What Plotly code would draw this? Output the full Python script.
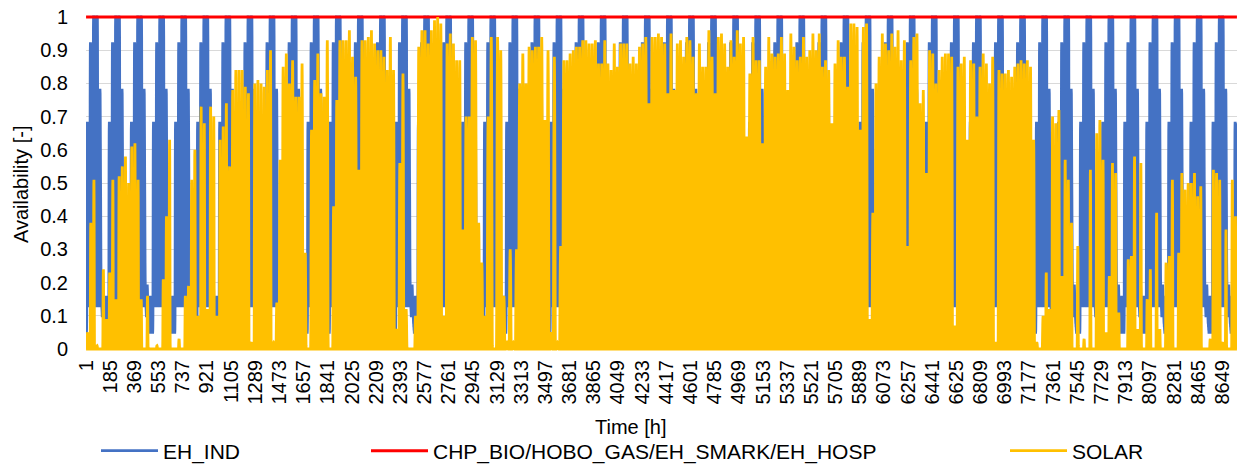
import plotly.graph_objects as go

# ---------------------------------------------------------------- data
HOURS_PER_YEAR = 8760
hours = list(range(1, HOURS_PER_YEAR + 1))

# x-axis labels every 184 h (1, 185, ..., 8649)
tick_hours = list(range(1, HOURS_PER_YEAR, 184))

# EH_IND: hourly availability for a typical week (Mon..Sun)
EH_IND_MON = [0.06, 0.05, 0.05, 0.05, 0.06, 0.10, 0.30, 0.55, 0.66, 0.68, 0.68, 0.67,
              0.62, 0.66, 0.68, 0.63, 0.48, 0.32, 0.24, 0.19, 0.16, 0.15, 0.14, 0.13]
EH_IND_TUE = [0.13, 0.13, 0.13, 0.13, 0.14, 0.20, 0.42, 0.74, 0.89, 0.92, 0.92, 0.91,
              0.85, 0.90, 0.92, 0.87, 0.68, 0.45, 0.30, 0.22, 0.18, 0.16, 0.15, 0.14]
EH_IND_WED = [0.13, 0.13, 0.13, 0.13, 0.14, 0.21, 0.46, 0.80, 0.97, 1.00, 1.00, 0.99,
              0.92, 0.98, 1.00, 0.95, 0.74, 0.48, 0.32, 0.23, 0.18, 0.16, 0.15, 0.14]
EH_IND_THU = [0.13, 0.13, 0.13, 0.13, 0.14, 0.21, 0.45, 0.79, 0.96, 1.00, 1.00, 0.98,
              0.91, 0.97, 1.00, 0.94, 0.72, 0.47, 0.31, 0.23, 0.18, 0.16, 0.15, 0.14]
EH_IND_FRI = [0.13, 0.13, 0.13, 0.13, 0.14, 0.19, 0.40, 0.66, 0.76, 0.78, 0.78, 0.77,
              0.70, 0.62, 0.52, 0.45, 0.35, 0.26, 0.21, 0.18, 0.16, 0.15, 0.14, 0.13]
EH_IND_SAT = [0.13, 0.12, 0.11, 0.10, 0.10, 0.10, 0.12, 0.15, 0.18, 0.19, 0.19, 0.18,
              0.16, 0.15, 0.14, 0.13, 0.12, 0.11, 0.10, 0.09, 0.08, 0.08, 0.07, 0.07]
EH_IND_SUN = [0.06, 0.06, 0.05, 0.05, 0.05, 0.05, 0.06, 0.08, 0.12, 0.15, 0.16, 0.15,
              0.13, 0.12, 0.10, 0.09, 0.08, 0.07, 0.07, 0.06, 0.06, 0.06, 0.06, 0.06]
EH_IND_WEEK = [EH_IND_MON, EH_IND_TUE, EH_IND_WED, EH_IND_THU,
               EH_IND_FRI, EH_IND_SAT, EH_IND_SUN]

# CHP_BIO / HOBO_GAS / EH_SMARK / EH_HOSP: always available
CHP_LEVEL = 1.0

# SOLAR: daily peak availability, day 0 .. day 364
SOLAR_DAILY_PEAK = [
    0.05, 0.38, 0.51, 0.01, 0.00, 0.24, 0.09, 0.23, 0.51, 0.15,
    0.52, 0.55, 0.58, 0.50, 0.61, 0.62, 0.51, 0.15, 0.00, 0.16,
    0.00, 0.00, 0.01, 0.00, 0.21, 0.40, 0.63, 0.00, 0.00, 0.03,
    0.00, 0.16, 0.19, 0.51, 0.60, 0.10, 0.73, 0.68, 0.12, 0.73,
    0.70, 0.10, 0.63, 0.67, 0.74, 0.55, 0.78, 0.84, 0.84, 0.84,
    0.79, 0.77, 0.02, 0.80, 0.81, 0.80, 0.79, 0.84, 0.90, 0.02,
    0.14, 0.57, 0.85, 0.89, 0.80, 0.87, 0.76, 0.76, 0.86, 0.29,
    0.00, 0.66, 0.81, 0.89, 0.77, 0.76, 0.93, 0.00, 0.43, 0.75,
    0.93, 0.93, 0.93, 0.96, 0.88, 0.82, 0.54, 0.93, 0.93, 0.94,
    0.96, 0.92, 0.90, 0.90, 0.88, 0.84, 0.94, 0.84, 0.06, 0.56,
    0.83, 0.12, 0.00, 0.00, 0.10, 0.91, 0.96, 0.96, 0.92, 0.96,
    0.99, 1.00, 0.98, 0.10, 0.92, 0.95, 0.92, 0.87, 0.87, 0.36,
    0.70, 0.70, 0.94, 0.93, 0.38, 0.26, 0.10, 0.70, 0.94, 0.00,
    0.94, 0.90, 0.16, 0.02, 0.30, 0.02, 0.30, 0.80, 0.89, 0.80,
    0.91, 0.90, 0.91, 0.91, 0.94, 0.69, 0.90, 0.05, 0.88, 0.02,
    0.31, 0.87, 0.87, 0.89, 0.90, 0.91, 0.91, 0.93, 0.93, 0.92,
    0.92, 0.93, 0.86, 0.86, 0.93, 0.86, 0.84, 0.92, 0.85, 0.92,
    0.92, 0.92, 0.86, 0.88, 0.86, 0.91, 0.92, 0.94, 0.74, 0.94,
    0.94, 0.95, 0.94, 0.92, 0.77, 0.95, 0.78, 0.92, 0.93, 0.88,
    0.94, 0.93, 0.88, 0.77, 0.92, 0.85, 0.85, 0.96, 0.88, 0.77,
    0.94, 0.95, 0.92, 0.85, 0.93, 0.88, 0.96, 0.92, 0.94, 0.64,
    0.83, 0.94, 0.87, 0.87, 0.62, 0.85, 0.94, 0.89, 0.88, 0.89,
    0.94, 0.89, 0.78, 0.95, 0.91, 0.87, 0.88, 0.94, 0.88, 0.90,
    0.95, 0.90, 0.95, 0.85, 0.87, 0.84, 0.68, 0.86, 0.93, 0.88,
    0.88, 0.79, 0.98, 0.98, 0.97, 0.66, 0.97, 0.98, 0.09, 0.41,
    0.80, 0.88, 0.95, 0.92, 0.90, 0.95, 0.91, 0.96, 0.87, 0.93,
    0.31, 0.87, 0.94, 0.95, 0.74, 0.78, 0.53, 0.90, 0.89, 0.80,
    0.84, 0.88, 0.89, 0.89, 0.88, 0.07, 0.85, 0.86, 0.88, 0.63,
    0.87, 0.86, 0.70, 0.85, 0.89, 0.86, 0.80, 0.88, 0.02, 0.84,
    0.83, 0.83, 0.84, 0.82, 0.85, 0.86, 0.87, 0.86, 0.87, 0.85,
    0.63, 0.02, 0.00, 0.10, 0.23, 0.12, 0.70, 0.68, 0.72, 0.22,
    0.57, 0.51, 0.38, 0.00, 0.31, 0.00, 0.03, 0.00, 0.54, 0.00,
    0.65, 0.69, 0.57, 0.05, 0.22, 0.56, 0.53, 0.11, 0.00, 0.00,
    0.27, 0.28, 0.58, 0.06, 0.56, 0.00, 0.15, 0.24, 0.00, 0.41,
    0.06, 0.00, 0.26, 0.28, 0.51, 0.00, 0.29, 0.53, 0.48, 0.50,
    0.50, 0.53, 0.46, 0.49, 0.00, 0.00, 0.03, 0.54, 0.53, 0.51,
    0.02, 0.36, 0.00, 0.51, 0.40,
]
assert len(SOLAR_DAILY_PEAK) == 365

# normalised hourly solar profiles (peak = 1) by season
SOLAR_WINTER = [0, 0, 0, 0, 0, 0, 0, 0, 0.15, 0.50, 0.80, 0.97,
                1.00, 0.90, 0.60, 0.25, 0.03, 0, 0, 0, 0, 0, 0, 0]
SOLAR_EQUINOX = [0, 0, 0, 0, 0, 0, 0.05, 0.25, 0.50, 0.72, 0.88, 0.97,
                 1.00, 0.96, 0.85, 0.68, 0.45, 0.20, 0.04, 0, 0, 0, 0, 0]
SOLAR_SUMMER = [0, 0, 0, 0, 0.02, 0.10, 0.28, 0.48, 0.66, 0.80, 0.90, 0.97,
                1.00, 0.97, 0.90, 0.78, 0.62, 0.42, 0.22, 0.07, 0.01, 0, 0, 0]
MONTH_START_DAY = [0, 31, 59, 90, 120, 151, 181, 212, 243, 273, 304, 334]
MONTH_PROFILE = [SOLAR_WINTER, SOLAR_WINTER, SOLAR_EQUINOX, SOLAR_EQUINOX,
                 SOLAR_SUMMER, SOLAR_SUMMER, SOLAR_SUMMER, SOLAR_SUMMER,
                 SOLAR_EQUINOX, SOLAR_EQUINOX, SOLAR_WINTER, SOLAR_WINTER]

# ---------------------------------------------------------------- hourly series
eh_ind, chp, solar = [], [], []
for h in hours:
    day, hod = divmod(h - 1, 24)
    eh_ind.append(EH_IND_WEEK[day % 7][hod])
    chp.append(CHP_LEVEL)
    month = max(i for i, s in enumerate(MONTH_START_DAY) if s <= day)
    solar.append(round(SOLAR_DAILY_PEAK[day] * MONTH_PROFILE[month][hod], 4))

# ---------------------------------------------------------------- figure
FONT = "Liberation Sans, Arial, sans-serif"
W, H = 1253, 464
# pixel positions of the value axis: 1.0 at y=17, 0.0 at y=349
Y_TOP_PX, Y_BOTTOM_PX = 17, 349
PAD = 0.006                       # small headroom so the thick lines at 0 and 1 are not clipped
unit_px = Y_BOTTOM_PX - Y_TOP_PX
T = round(Y_TOP_PX - PAD * unit_px)
B = H - round(Y_BOTTOM_PX + PAD * unit_px)
L, R = 86, 16
plot_w = W - L - R
plot_h = H - T - B
y_lo, y_hi = -PAD, 1 + PAD


def px_x(px):
    return (px - L) / plot_w


def px_y(py):
    return (H - B - py) / plot_h


fig = go.Figure()
fig.add_trace(go.Scatter(x=hours, y=eh_ind, mode="lines", name="EH_IND",
                         line=dict(color="#4472C4", width=2.8, simplify=False),
                         legend="legend"))
fig.add_trace(go.Scatter(x=hours, y=chp, mode="lines",
                         name="CHP_BIO/HOBO_GAS/EH_SMARK/EH_HOSP",
                         line=dict(color="#FF0000", width=3, simplify=False),
                         legend="legend2"))
fig.add_trace(go.Scatter(x=hours, y=solar, mode="lines", name="SOLAR",
                         line=dict(color="#FFC000", width=2.8, simplify=False),
                         legend="legend3"))

legend_common = dict(orientation="h", yanchor="middle", y=px_y(451),
                     xanchor="left", font=dict(family=FONT, size=21, color="#000000"),
                     bgcolor="rgba(0,0,0,0)", itemwidth=57)
fig.update_layout(
    width=W, height=H,
    margin=dict(l=L, r=R, t=T, b=B, pad=0, autoexpand=False),
    paper_bgcolor="white", plot_bgcolor="white",
    font=dict(family=FONT, size=20, color="#000000"),
    showlegend=True,
    legend=dict(legend_common, x=px_x(96)),
    legend2=dict(legend_common, x=px_x(366)),
    legend3=dict(legend_common, x=px_x(1005)),
    xaxis=dict(range=[0.5, HOURS_PER_YEAR + 0.5], tickmode="array",
               tickvals=tick_hours, ticktext=[str(t) for t in tick_hours],
               tickangle=-90, tickfont=dict(family=FONT, size=20),
               showgrid=False, zeroline=False, showline=False,
               ticks="", ticklen=0, ticklabelstandoff=4, automargin=False),
    yaxis=dict(range=[y_lo, y_hi], tickmode="array",
               tickvals=[i / 10 for i in range(11)],
               ticktext=["0"] + [f"0.{i}" for i in range(1, 10)] + ["1"],
               tickfont=dict(family=FONT, size=20),
               showgrid=True, gridcolor="#d9d9d9", gridwidth=1,
               zeroline=False, showline=False, ticks="", ticklabelstandoff=17,
               automargin=False),
    annotations=[
        dict(text="Availability [-]", xref="paper", yref="paper",
             x=px_x(21), y=px_y(185), textangle=-90, showarrow=False,
             font=dict(family=FONT, size=20), xanchor="center", yanchor="middle"),
        dict(text="Time [h]", xref="paper", yref="paper",
             x=px_x(631), y=px_y(427), showarrow=False,
             font=dict(family=FONT, size=20), xanchor="center", yanchor="middle"),
    ],
)

fig.write_html("out.html")
